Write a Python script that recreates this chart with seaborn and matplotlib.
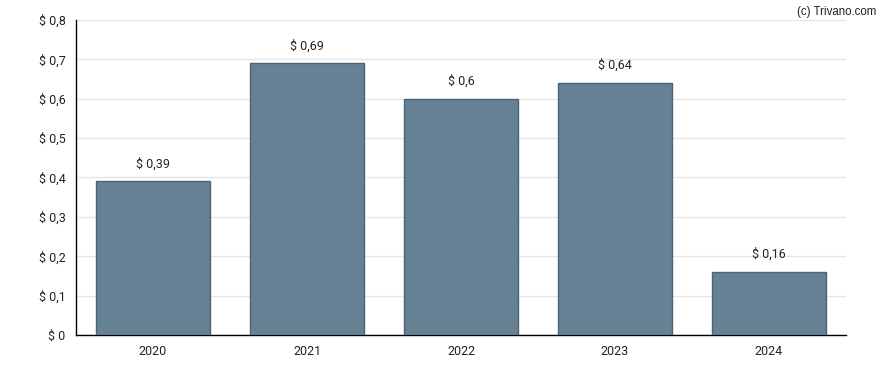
import matplotlib
matplotlib.use("Agg")
import pandas as pd
import seaborn as sns
import matplotlib.pyplot as plt

# Chart data
years = ["2020", "2021", "2022", "2023", "2024"]
dividends = [0.39, 0.69, 0.60, 0.64, 0.16]
y_ticks = [0, 0.1, 0.2, 0.3, 0.4, 0.5, 0.6, 0.7, 0.8]


def fmt_money(v):
    # Dutch-style decimal comma, no trailing zeros
    s = ("%.2f" % v).rstrip("0").rstrip(".")
    return "$ " + s.replace(".", ",")


def main():
    sns.set_style("white")
    plt.rcParams["font.family"] = ["Roboto", "DejaVu Sans"]

    df = pd.DataFrame({"year": years, "value": dividends})

    fig = plt.figure(figsize=(8.88, 3.70), dpi=100)
    ax = fig.add_axes([0.0856, 0.0946, 0.8671, 0.8514])

    sns.barplot(data=df, x="year", y="value", color="#637f91",
                edgecolor="#4a6276", linewidth=1, width=0.74,
                saturation=1, ax=ax, zorder=3)
    for p in ax.patches:
        p.set_alpha(0.98)

    # Value labels above bars
    for i, v in enumerate(dividends):
        ax.text(i, v + 0.028, fmt_money(v), ha="center", va="bottom",
                fontsize=9, color="#222222")

    ax.set_ylim(0, 0.8)
    ax.set_xlim(-0.5, 4.5)
    ax.set_yticks(y_ticks)
    ax.set_yticklabels([fmt_money(t) for t in y_ticks])
    ax.yaxis.grid(True, color="#e6e6e6", linewidth=1, zorder=0)
    ax.set_axisbelow(True)

    ax.set_xlabel("")
    ax.set_ylabel("")
    ax.tick_params(axis="both", labelsize=9, colors="#222222",
                   length=4, width=1, direction="out")
    ax.tick_params(axis="both", color="black")
    for side in ["top", "right"]:
        ax.spines[side].set_visible(False)
    for side in ["left", "bottom"]:
        ax.spines[side].set_color("black")
        ax.spines[side].set_linewidth(1)

    fig.text(0.987, 0.985, "(c) Trivano.com", ha="right", va="top",
             fontsize=8.3, color="#222222", family=["Liberation Sans"])

    fig.savefig("out.png", dpi=100)


if __name__ == "__main__":
    main()
